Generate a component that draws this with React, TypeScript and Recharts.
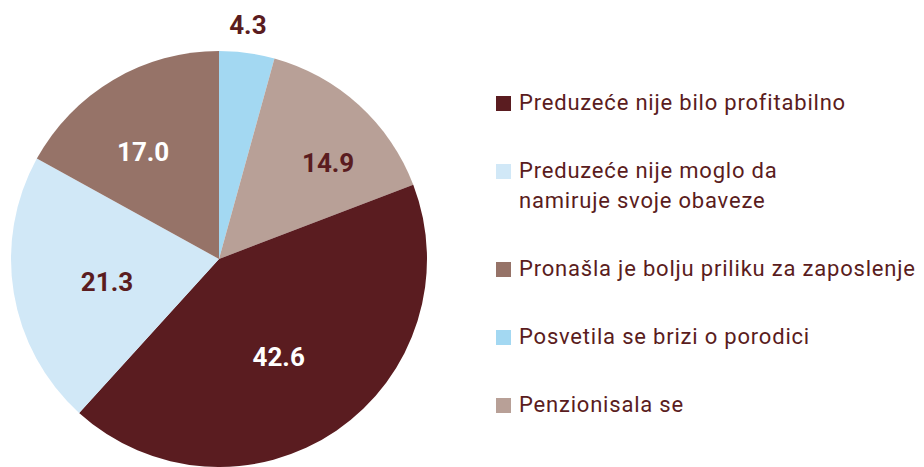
import { PieChart, Pie, Cell, Legend } from "recharts"

// slices, clockwise from 12 o'clock
const categories = [
  "Posvetila se brizi o porodici",
  "Penzionisala se",
  "Preduzeće nije bilo profitabilno",
  "Preduzeće nije moglo da\nnamiruje svoje obaveze",
  "Pronašla je bolju priliku za zaposlenje",
]
const shares = [4.3, 14.9, 42.6, 21.3, 17.0]
// legend lists the reasons in a different order than the pie
const legendOrder = [2, 3, 4, 0, 1]

const COLORS = ["#a3d8f2", "#b8a097", "#5a1c20", "#d1e8f7", "#967368"]
const LABEL_COLORS = ["#5a1c20", "#5a1c20", "#ffffff", "#5a1c20", "#ffffff"]
// label radius (fraction of outer radius) and angular nudge in degrees
const LABEL_R = [1.135, 0.7, 0.55, 0.55, 0.63]
const LABEL_SHIFT = [0.7, -6.3, -2.9, 2.2, 4.8]

const TEXT = "#5a1c20"
const RAD = Math.PI / 180

const data = categories.map((name, i) => ({ name, value: shares[i] }))

// eslint-disable-next-line @typescript-eslint/no-explicit-any
function SliceLabel(props: any) {
  const { cx, cy, midAngle, outerRadius, index, value } = props
  const r = outerRadius * LABEL_R[index]
  const a = (midAngle + LABEL_SHIFT[index]) * RAD
  const x = cx + r * Math.cos(-a)
  const y = cy + r * Math.sin(-a)
  return (
    <text
      x={x}
      y={y}
      fill={LABEL_COLORS[index]}
      textAnchor="middle"
      dominantBaseline="central"
      fontFamily="Roboto, sans-serif"
      fontWeight={700}
      fontSize={26}
    >
      {Number(value).toFixed(1)}
    </text>
  )
}

function LegendList() {
  return (
    <div style={{ fontFamily: "Roboto, sans-serif", color: TEXT }}>
      {legendOrder.map((i) => (
        <div key={i} style={{ display: "flex", alignItems: "flex-start", marginBottom: 38 }}>
          <span
            style={{
              width: 15,
              height: 15,
              background: COLORS[i],
              marginTop: 7.5,
              marginRight: 8,
              flex: "none",
            }}
          />
          <span
            style={{
              fontSize: 22,
              lineHeight: "30px",
              letterSpacing: 0.8,
              whiteSpace: "pre-line",
            }}
          >
            {categories[i]}
          </span>
        </div>
      ))}
    </div>
  )
}

export default function App() {
  return (
    <div style={{ position: "absolute", left: 0, top: 0, background: "#fff" }}>
      <PieChart width={924} height={467} margin={{ top: 0, right: 0, bottom: 0, left: 0 }}>
        <Pie
          data={data}
          dataKey="value"
          nameKey="name"
          cx={219}
          cy={259}
          outerRadius={208}
          startAngle={90}
          endAngle={-270}
          stroke="none"
          labelLine={false}
          label={SliceLabel}
          isAnimationActive={false}
        >
          {data.map((d, i) => (
            <Cell key={d.name} fill={COLORS[i]} />
          ))}
        </Pie>
        <Legend
          layout="vertical"
          content={<LegendList />}
          wrapperStyle={{ left: 496, top: 88, width: 428 }}
        />
      </PieChart>
    </div>
  )
}
